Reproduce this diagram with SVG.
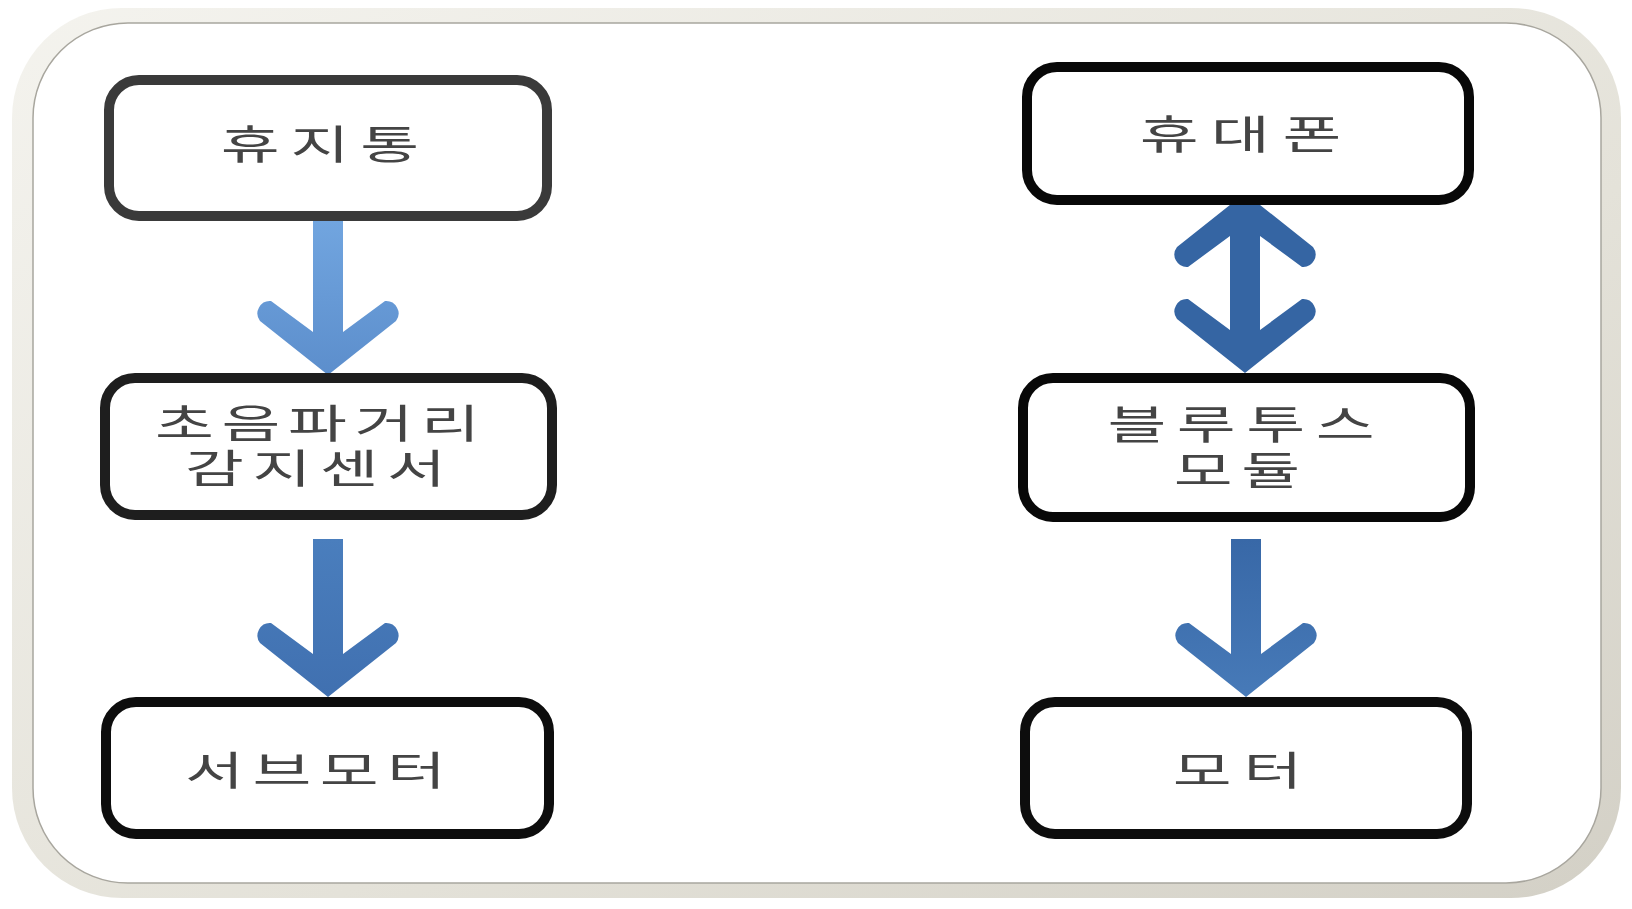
<svg xmlns="http://www.w3.org/2000/svg" width="1632" height="909" viewBox="0 0 1632 909">
<style>
.node rect{fill:#ffffff;stroke-width:10}
.t{font-family:"Noto Sans CJK KR","Noto Sans",sans-serif;font-size:40px;fill:#444444;text-anchor:middle}
</style>
<defs>
<linearGradient id="frameG" x1="0" y1="0" x2="1" y2="1">
<stop offset="0" stop-color="#f4f3ee"/>
<stop offset="0.6" stop-color="#e4e2d9"/>
<stop offset="1" stop-color="#d3d0c6"/>
</linearGradient>
<linearGradient id="a1G" x1="0" y1="0" x2="0" y2="1">
<stop offset="0" stop-color="#72a6e0"/>
<stop offset="1" stop-color="#5c8ecc"/>
</linearGradient>
<linearGradient id="a2G" x1="0" y1="0" x2="0" y2="1">
<stop offset="0" stop-color="#4a7ebd"/>
<stop offset="1" stop-color="#4070b0"/>
</linearGradient>
<linearGradient id="a4G" x1="0" y1="0" x2="0" y2="1">
<stop offset="0" stop-color="#3868a7"/>
<stop offset="1" stop-color="#477ab8"/>
</linearGradient>
</defs>

<g id="frame">
<rect x="12" y="8" width="1609" height="890" rx="110" fill="url(#frameG)"/>
<rect x="33" y="23" width="1568" height="860" rx="95" fill="#ffffff" stroke="#a8a69e" stroke-width="1.5"/>
</g>

<g id="connectors">
<path id="c1" transform="translate(328,375)" fill="url(#a1G)" d="M0,0 L68,-54 A12.5,12.5 0 0 0 57,-74 L15,-43 L15,-160 L-15,-160 L-15,-43 L-57,-74 A12.5,12.5 0 0 0 -68,-54 Z"/>
<path id="c2" transform="translate(328,697)" fill="url(#a2G)" d="M0,0 L68,-54 A12.5,12.5 0 0 0 57,-74 L15,-43 L15,-158 L-15,-158 L-15,-43 L-57,-74 A12.5,12.5 0 0 0 -68,-54 Z"/>
<path id="c3" transform="translate(1245,373)" fill="#3565a3" d="M0,0 L68,-54 A12.5,12.5 0 0 0 57,-74 L15,-43 L15,-137 L57,-106 A12.5,12.5 0 0 0 68,-126 L0,-180 L-68,-126 A12.5,12.5 0 0 0 -57,-106 L-15,-137 L-15,-43 L-57,-74 A12.5,12.5 0 0 0 -68,-54 Z"/>
<path id="c4" transform="translate(1246,697)" fill="url(#a4G)" d="M0,0 L68,-54 A12.5,12.5 0 0 0 57,-74 L15,-43 L15,-158 L-15,-158 L-15,-43 L-57,-74 A12.5,12.5 0 0 0 -68,-54 Z"/>
</g>

<g id="n1" class="node">
<rect x="109" y="80" width="438" height="136" rx="30" stroke="#3a3a3a"/>
<text class="t" transform="translate(320,159) scale(1.6,1)" textLength="124" lengthAdjust="spacing">휴지통</text>
</g>
<g id="n2" class="node">
<rect x="105" y="378" width="447" height="137" rx="30" stroke="#1e1e1e"/>
<text class="t" transform="translate(317.5,438) scale(1.6,1)"><tspan x="0" y="0" textLength="203" lengthAdjust="spacing">초음파거리</tspan><tspan x="-1.25" y="45" textLength="163" lengthAdjust="spacing">감지센서</tspan></text>
</g>
<g id="n3" class="node">
<rect x="106" y="702" width="443" height="132" rx="30" stroke="#0d0d0d"/>
<text class="t" transform="translate(315.5,785) scale(1.6,1)" textLength="163" lengthAdjust="spacing">서브모터</text>
</g>
<g id="n4" class="node">
<rect x="1027" y="67" width="442" height="133" rx="30" stroke="#080808"/>
<text class="t" transform="translate(1240.5,149) scale(1.6,1)" textLength="126" lengthAdjust="spacing">휴대폰</text>
</g>
<g id="n5" class="node">
<rect x="1023" y="378" width="447" height="139" rx="30" stroke="#080808"/>
<text class="t" transform="translate(1241,439) scale(1.6,1)"><tspan x="0" y="0" textLength="167" lengthAdjust="spacing">블루투스</tspan><tspan x="-2.5" y="46" textLength="79" lengthAdjust="spacing">모듈</tspan></text>
</g>
<g id="n6" class="node">
<rect x="1025" y="702" width="442" height="132" rx="30" stroke="#0d0d0d"/>
<text class="t" transform="translate(1237.5,785) scale(1.6,1)" textLength="81" lengthAdjust="spacing">모터</text>
</g>
</svg>
